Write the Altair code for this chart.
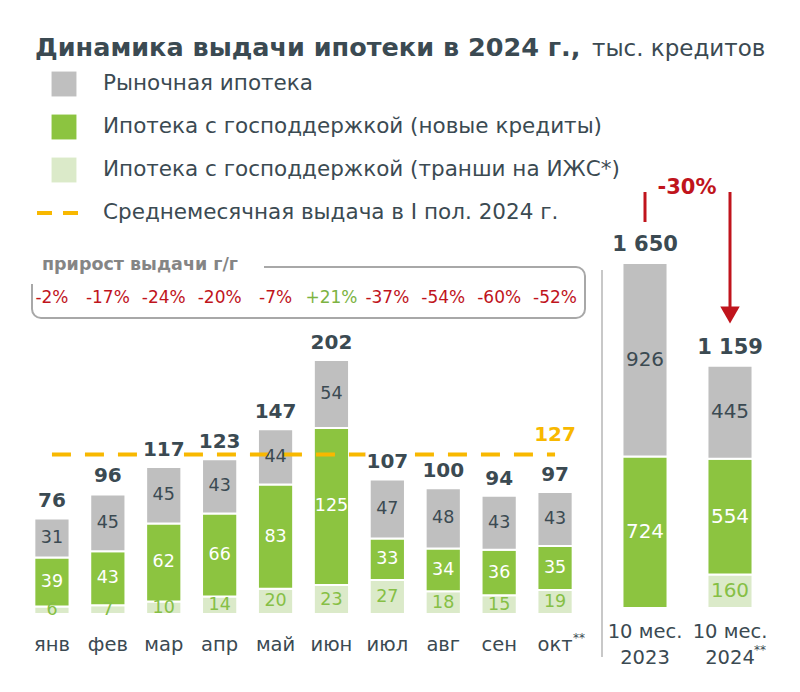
import altair as alt
import pandas as pd

# ---------------- data ----------------
months = ["янв", "фев", "мар", "апр", "май", "июн", "июл", "авг", "сен", "окт"]
market = [31, 45, 45, 43, 44, 54, 47, 48, 43, 43]
gov_new = [39, 43, 62, 66, 83, 125, 33, 34, 36, 35]
gov_izhs = [6, 7, 10, 14, 20, 23, 27, 18, 15, 19]
totals = [76, 96, 117, 123, 147, 202, 107, 100, 94, 97]
growth = ["-2%", "-17%", "-24%", "-20%", "-7%", "+21%", "-37%", "-54%", "-60%", "-52%"]

periods = ["2023", "2024"]
period_top = ["10 мес.", "10 мес."]
period_market = [926, 445]
period_new = [724, 554]
period_izhs = [0, 160]
period_totals = [1650, 1159]
change_label = "-30%"

legend_labels = [
    "Рыночная ипотека",
    "Ипотека с господдержкой (новые кредиты)",
    "Ипотека с господдержкой (транши на ИЖС*)",
    "Среднемесячная выдача в I пол. 2024 г.",
]
title_bold = "Динамика выдачи ипотеки в 2024 г.,"
title_reg = "тыс. кредитов"
growth_title = "прирост выдачи г/г"

# ---------------- style ----------------
FONT = "DejaVu Sans"
DARK = "#3b4a52"
GRAY = "#bfbfbf"
GREEN = "#8cc440"
LIGHT = "#dbeac9"
LIGHT_TXT = "#86bf45"
RED = "#c0141c"
ORANGE = "#f8b800"
W, H = 784, 676

seg_types = ["izhs", "new", "market"]
seg_fill = alt.Scale(domain=seg_types, range=[LIGHT, GREEN, GRAY])
seg_txt = alt.Scale(domain=seg_types, range=[LIGHT_TXT, "white", DARK])

xl = alt.Scale(domain=months, range=[16, 575], paddingInner=0.37, paddingOuter=0.185)
yl = alt.Scale(domain=[0, 202], range=[606, 352], nice=False, zero=False)
xr = alt.Scale(domain=periods, range=[594.5, 764.5], paddingInner=0.47, paddingOuter=0.235)
yr = alt.Scale(domain=[0, 1650], range=[600, 255], nice=False, zero=False)


def stack_rows(cats, series):
    rows = []
    for i, c in enumerate(cats):
        base = 0
        for t, vals in zip(seg_types, series):
            v = vals[i]
            if v > 0:
                rows.append(dict(cat=c, type=t, value=v, start=base, end=base + v, mid=base + v / 2))
            base += v
    return pd.DataFrame(rows)


left = stack_rows(months, [gov_izhs, gov_new, market])
right = stack_rows(periods, [period_izhs, period_new, period_market])
ltot = pd.DataFrame({"cat": months, "total": totals, "zero": 0})
rtot = pd.DataFrame({"cat": periods, "total": period_totals, "zero": 0,
                     "lbl": [f"{v:,}".replace(",", " ") for v in period_totals],
                     "top": period_top})
avg = sum(totals[:6]) / 6
avg_df = pd.DataFrame({"cat": [months[0], months[-1]], "v": [avg, avg]})
gdf = pd.DataFrame({"cat": months, "g": growth,
                    "s": ["pos" if g.startswith("+") else "neg" for g in growth]})
leg = pd.DataFrame({"label": legend_labels})
one = pd.DataFrame({"k": [0]})

XL = alt.X("cat:N", scale=xl, axis=None)
XR = alt.X("cat:N", scale=xr, axis=None)
ZL = alt.Y("zero:Q", scale=yl, axis=None)
ZR = alt.Y("zero:Q", scale=yr, axis=None)

layers = []

# title
layers.append(alt.Chart(one).mark_text(font=FONT, fontSize=25.5, fontWeight="bold", color=DARK,
                                       align="left", baseline="middle")
              .encode(x=alt.value(27), y=alt.value(40), text=alt.value(title_bold)))
layers.append(alt.Chart(one).mark_text(font=FONT, fontSize=23, color=DARK,
                                       align="left", baseline="middle")
              .encode(x=alt.value(584), y=alt.value(41), text=alt.value(title_reg)))

# legend
leg_y = alt.Y("label:N", scale=alt.Scale(type="point", domain=legend_labels, range=[76, 205], padding=0),
              axis=None)
layers.append(alt.Chart(leg).transform_filter(alt.datum.label != legend_labels[3])
              .mark_square(size=620, opacity=1, filled=True)
              .encode(x=alt.value(56), y=leg_y,
                      color=alt.Color("label:N", scale=alt.Scale(domain=legend_labels[:3],
                                                                 range=[GRAY, GREEN, LIGHT]), legend=None)))
layers.append(alt.Chart(leg).transform_filter(alt.datum.label == legend_labels[3])
              .mark_rule(color=ORANGE, strokeWidth=4, strokeDash=[15, 11])
              .encode(x=alt.value(29), x2=alt.value(72), y=leg_y))
layers.append(alt.Chart(leg).mark_text(font=FONT, fontSize=21.5, color=DARK, align="left", baseline="middle")
              .encode(x=alt.value(95), y=leg_y, text="label:N"))

# growth box
layers.append(alt.Chart(one).mark_rect(fill=None, fillOpacity=0, stroke="#a8a8a8", strokeWidth=2, cornerRadius=9)
              .encode(x=alt.value(24), x2=alt.value(577), y=alt.value(259), y2=alt.value(310)))
layers.append(alt.Chart(one).mark_rect(fill="white")
              .encode(x=alt.value(14), x2=alt.value(256), y=alt.value(246), y2=alt.value(276)))
layers.append(alt.Chart(one).mark_text(font=FONT, fontSize=17.5, fontWeight="bold", color="#858585",
                                       align="left", baseline="middle")
              .encode(x=alt.value(34), y=alt.value(257), text=alt.value(growth_title)))
layers.append(alt.Chart(gdf).mark_text(font=FONT, fontSize=17, baseline="middle")
              .encode(x=XL, y=alt.value(290), text="g:N",
                      color=alt.Color("s:N", scale=alt.Scale(domain=["neg", "pos"], range=[RED, "#7cb342"]),
                                      legend=None)))

# left bars
layers.append(alt.Chart(left).mark_bar(stroke="white", strokeWidth=2)
              .encode(x=XL, y=alt.Y("start:Q", scale=yl, axis=None), y2="end:Q",
                      color=alt.Color("type:N", scale=seg_fill, legend=None)))
# average line
layers.append(alt.Chart(avg_df).mark_line(color=ORANGE, strokeWidth=4, strokeDash=[19, 14])
              .encode(x=XL, y=alt.Y("v:Q", scale=yl, axis=None)))
layers.append(alt.Chart(avg_df.tail(1)).mark_text(font=FONT, fontSize=20, fontWeight="bold", color=ORANGE,
                                                  baseline="bottom", dy=-10)
              .encode(x=XL, y=alt.Y("v:Q", scale=yl, axis=None), text=alt.Text("v:Q", format=".0f")))
layers.append(alt.Chart(left).mark_text(font=FONT, fontSize=17.5, baseline="middle")
              .encode(x=XL, y=alt.Y("mid:Q", scale=yl, axis=None), text="value:Q",
                      color=alt.Color("type:N", scale=seg_txt, legend=None)))
# totals with halo
for halo in (True, False):
    kw = dict(stroke="white", strokeWidth=6) if halo else {}
    layers.append(alt.Chart(ltot).mark_text(font=FONT, fontSize=20, fontWeight="bold", color=DARK,
                                            baseline="bottom", dy=-7, **kw)
                  .encode(x=XL, y=alt.Y("total:Q", scale=yl, axis=None), text="total:Q"))
# month labels
layers.append(alt.Chart(ltot).mark_text(font=FONT, fontSize=19.5, color=DARK, baseline="middle", dy=31)
              .encode(x=XL, y=ZL, text="cat:N"))
layers.append(alt.Chart(ltot.tail(1)).mark_text(font=FONT, fontSize=12, color=DARK, align="left",
                                                baseline="middle", dx=18, dy=24)
              .encode(x=XL, y=ZL, text=alt.value("**")))

# separator
layers.append(alt.Chart(one).mark_rule(color="#c8c8c8", strokeWidth=2)
              .encode(x=alt.value(594), y=alt.value(262), y2=alt.value(649)))

# right bars
layers.append(alt.Chart(right).mark_bar(stroke="white", strokeWidth=2)
              .encode(x=XR, y=alt.Y("start:Q", scale=yr, axis=None), y2="end:Q",
                      color=alt.Color("type:N", scale=seg_fill, legend=None)))
layers.append(alt.Chart(right).mark_text(font=FONT, fontSize=20, baseline="middle")
              .encode(x=XR, y=alt.Y("mid:Q", scale=yr, axis=None), text="value:Q",
                      color=alt.Color("type:N", scale=seg_txt, legend=None)))
layers.append(alt.Chart(rtot).mark_text(font=FONT, fontSize=21, fontWeight="bold", color=DARK,
                                        baseline="bottom", dy=-8)
              .encode(x=XR, y=alt.Y("total:Q", scale=yr, axis=None), text="lbl:N"))
layers.append(alt.Chart(rtot).mark_text(font=FONT, fontSize=19.5, color=DARK, baseline="middle", dy=24)
              .encode(x=XR, y=ZR, text="top:N"))
layers.append(alt.Chart(rtot).mark_text(font=FONT, fontSize=19.5, color=DARK, baseline="middle", dy=50)
              .encode(x=XR, y=ZR, text="cat:N"))
layers.append(alt.Chart(rtot.tail(1)).mark_text(font=FONT, fontSize=12, color=DARK, align="left",
                                                baseline="middle", dx=24, dy=42)
              .encode(x=XR, y=ZR, text=alt.value("**")))

# change arrow
a0 = rtot.head(1)
a1 = rtot.tail(1)
layers.append(alt.Chart(a0).mark_rule(color=RED, strokeWidth=3)
              .encode(x=XR, y=alt.value(184), y2=alt.value(214)))
layers.append(alt.Chart(a1).mark_rule(color=RED, strokeWidth=3)
              .encode(x=XR, y=alt.value(184), y2=alt.value(302)))
layers.append(alt.Chart(a1).mark_point(shape="triangle-down", filled=True, size=380, color=RED, opacity=1)
              .encode(x=XR, y=alt.value(307)))
layers.append(alt.Chart(a0).mark_text(font=FONT, fontSize=21, fontWeight="bold", color=RED,
                                      baseline="middle", dx=42)
              .encode(x=XR, y=alt.value(180), text=alt.value(change_label)))

chart = (alt.layer(*layers)
         .resolve_scale(x="independent", y="independent", color="independent")
         .properties(width=W, height=H, autosize=alt.AutoSizeParams(type="none"), padding=0)
         .configure_view(stroke=None))

chart.save("out.html", embed_options={"renderer": "svg", "actions": False})
